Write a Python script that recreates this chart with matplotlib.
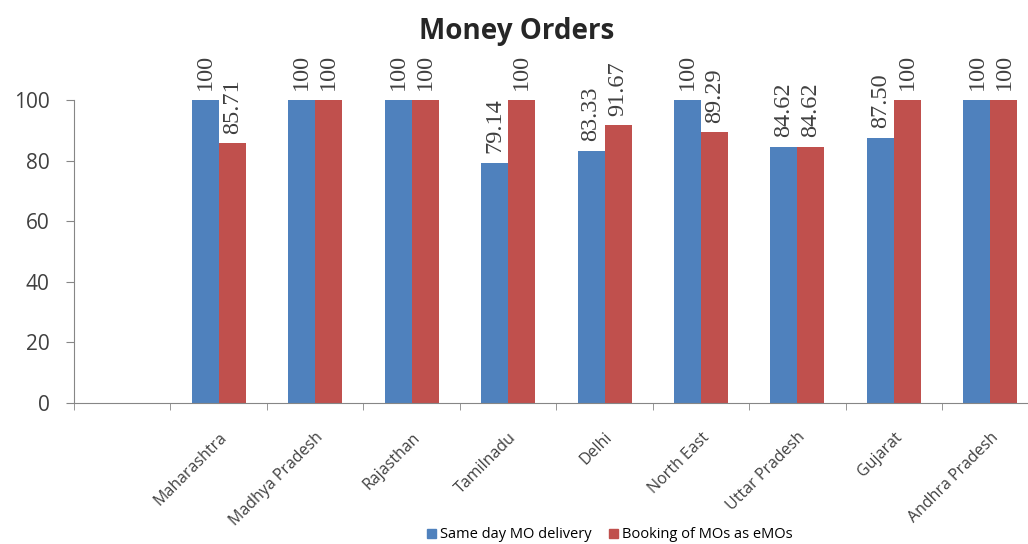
import numpy as np
import matplotlib.pyplot as plt
from matplotlib.patches import Patch

# donnees
states = ["Maharashtra", "Madhya Pradesh", "Rajasthan", "Tamilnadu", "Delhi",
          "North East", "Uttar Pradesh", "Gujarat", "Andhra Pradesh"]
same_day = [100, 100, 100, 79.14, 83.33, 100, 84.62, 87.50, 100]
emo_booking = [85.71, 100, 100, 100, 91.67, 89.29, 84.62, 100, 100]
series_names = ["Same day MO delivery", "Booking of MOs as eMOs"]

blue = "#4F81BD"
red = "#C0504D"
gray_txt = "#404040"

fig = plt.figure(figsize=(10.28, 5.44), dpi=100)
ax = fig.add_axes([74/1028, 1-403/544, (1028-74)/1028, 303/544])

# premiere categorie vide (comme dans le graphique d'origine)
x = np.arange(len(states)) + 1
w = 0.28
b1 = ax.bar(x - w/2, same_day, w, color=blue)
b2 = ax.bar(x + w/2, emo_booking, w, color=red)

for bars in (b1, b2):
    for r in bars:
        v = r.get_height()
        txt = "100" if v == 100 else "%.2f" % v
        ax.annotate(txt, (r.get_x() + r.get_width()/2, v), xytext=(0, 7),
                    textcoords="offset points", rotation=90, ha="center", va="bottom",
                    fontsize=17.5, family="Liberation Serif", color=gray_txt,
                    annotation_clip=False)

ax.set_xlim(-0.5, 9.39)
ax.set_ylim(0, 100)
ax.set_yticks([0, 20, 40, 60, 80, 100])

ax.set_xticks(x)
ax.set_xticklabels(states, rotation=45, ha="right", rotation_mode="anchor",
                   family="Open Sans", fontsize=11.5, color=gray_txt)
ax.set_xticks(np.arange(-0.5, 9.5, 1), minor=True)
ax.tick_params(axis="x", which="major", length=0, pad=19)
ax.tick_params(axis="x", which="minor", length=5, color="#868686", direction="out")
ax.tick_params(axis="y", length=6, color="#868686", direction="out", pad=11.5,
               labelsize=15, labelcolor=gray_txt)
for lab in ax.get_yticklabels():
    lab.set_family("Open Sans")

for s in ["top", "right"]:
    ax.spines[s].set_visible(False)
ax.spines["left"].set_color("#868686")
ax.spines["bottom"].set_color("#868686")

fig.text(517/1028, 1-31/544, "Money Orders", ha="center", va="center",
         fontsize=20, fontweight="bold", family="Open Sans", color="#262626")

handles = [Patch(color=blue), Patch(color=red)]
fig.legend(handles, series_names, loc="center", bbox_to_anchor=(610/1028, 9/544),
           ncol=2, frameon=False, handlelength=0.6, handleheight=0.6,
           handletextpad=0.3, columnspacing=1.2,
           prop={"family": "Open Sans", "size": 10.5})

plt.savefig("out.png", dpi=100)
